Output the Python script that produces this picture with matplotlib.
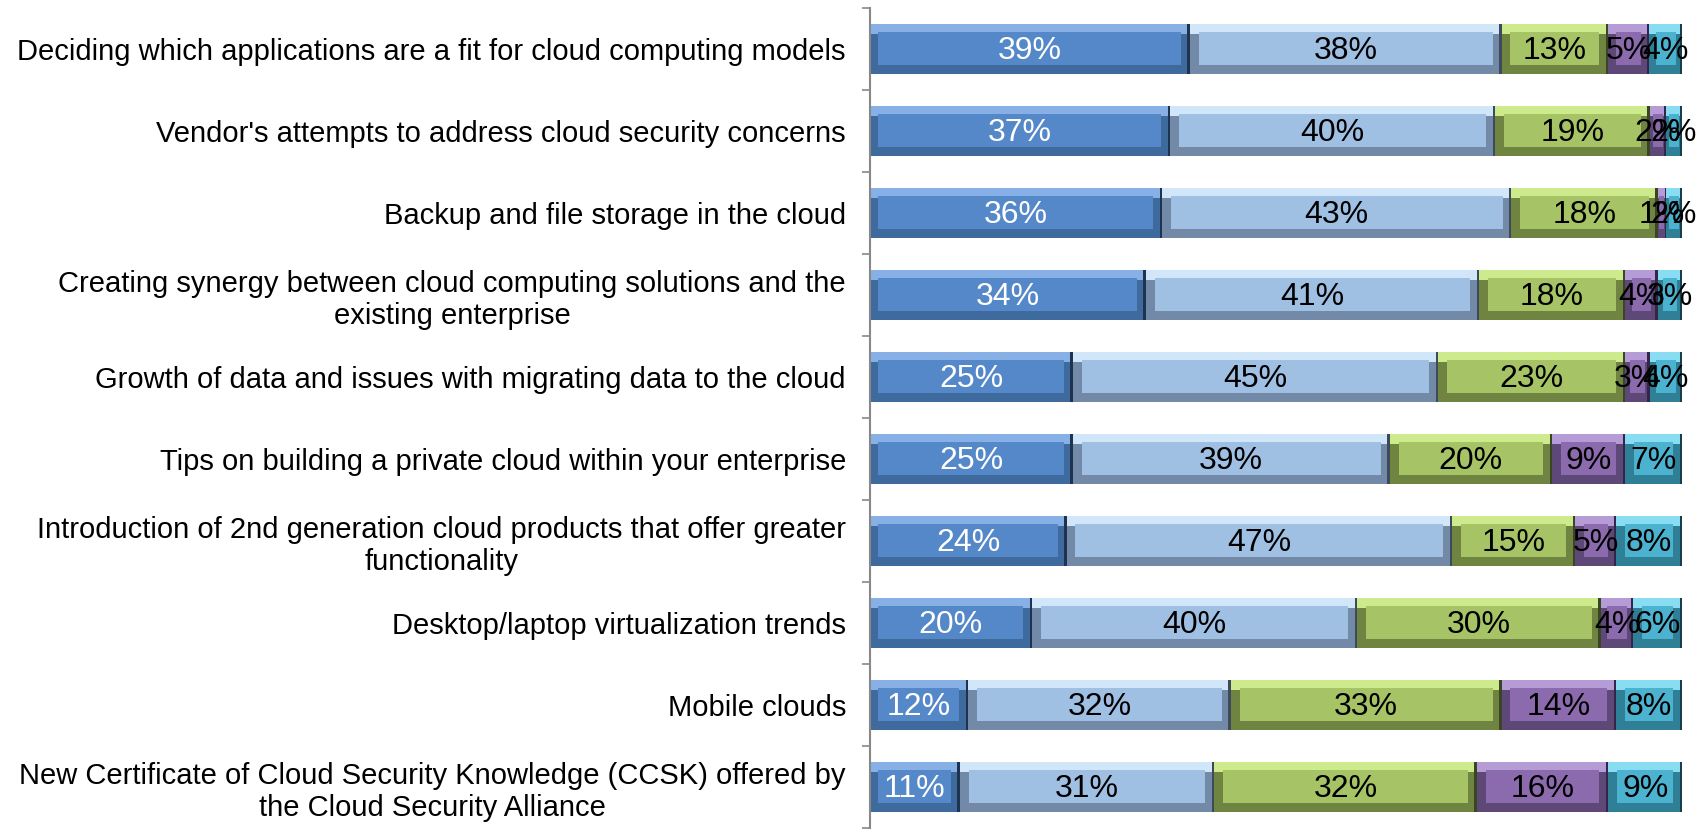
import matplotlib
matplotlib.use('Agg')
import matplotlib.pyplot as plt
import numpy as np

categories = [
    'Deciding which applications are a fit for cloud computing models',
    "Vendor's attempts to address cloud security concerns",
    'Backup and file storage in the cloud',
    'Creating synergy between cloud computing solutions and the\nexisting enterprise',
    'Growth of data and issues with migrating data to the cloud',
    'Tips on building a private cloud within your enterprise',
    'Introduction of 2nd generation cloud products that offer greater\nfunctionality',
    'Desktop/laptop virtualization trends',
    'Mobile clouds',
    'New Certificate of Cloud Security Knowledge (CCSK) offered by\nthe Cloud Security Alliance',
]

s1 = [39, 37, 36, 34, 25, 25, 24, 20, 12, 11]
s2 = [38, 40, 43, 41, 45, 39, 47, 40, 32, 31]
s3 = [13, 19, 18, 18, 23, 20, 15, 30, 33, 32]
s4 = [5, 2, 1, 4, 3, 9, 5, 4, 14, 16]
s5 = [4, 2, 2, 3, 4, 7, 8, 6, 8, 9]

series = [s1, s2, s3, s4, s5]
faces = ['#5588C8', '#9FBFE3', '#A6C465', '#8B6BAE', '#4BB3CF']
lights = ['#86B0E6', '#D2E6FA', '#CDEB8C', '#B59CD6', '#88DDF2']
shades = ['#3E6A9E', '#7289A8', '#6E8440', '#5E4878', '#2F8096']
edges = ['#1E3350', '#3C4A5C', '#3A4622', '#33264A', '#173E4A']
text_colors = ['white', 'black', 'black', 'black', 'black']

plt.rcParams['font.family'] = ['Liberation Sans', 'DejaVu Sans']

fig = plt.figure(figsize=(17.07, 8.30), dpi=100)
ax = fig.add_axes([0.5094, 0.0024, 0.476, 0.988])

data = np.array(series, dtype=float)
totals = data.sum(axis=0)
pct = data / totals * 100
y = np.arange(len(categories))
h = 0.6
left = np.zeros(len(categories))

for vals, raw, fc, lc, sc, ec, tc in zip(pct, series, faces, lights, shades,
                                         edges, text_colors):
    inset = np.minimum(1.1, vals * 0.2)
    # bevelled look: shaded base, light top rim, flat face, dark right edge
    ax.barh(y, vals, left=left, height=h, color=sc, linewidth=0)
    ax.barh(y - h * 0.4, vals, left=left, height=h * 0.2,
            color=lc, linewidth=0)
    ax.barh(y - h * 0.01, vals - 2 * inset, left=left + inset,
            height=h * 0.66, color=fc, linewidth=0)
    ax.barh(y, np.minimum(0.3, vals * 0.1), left=left + vals - np.minimum(0.3, vals * 0.1),
            height=h, color=ec, linewidth=0)
    for yi, l, v, r in zip(y, left, vals, raw):
        ax.text(l + v / 2, yi + 0.02, '%d%%' % r, ha='center', va='center',
                color=tc, fontsize=23)
    left += vals

ax.set_xlim(0, 100)
ax.set_ylim(len(categories) - 0.5, -0.5)
ax.set_yticks(y)
ax.set_yticklabels(categories, fontsize=21, multialignment='center')
ax.set_yticks(np.arange(len(categories) + 1) - 0.5, minor=True)
ax.tick_params(axis='y', which='major', length=0, pad=17)
ax.tick_params(axis='y', which='minor', length=6, width=1.2, color='#888888')
ax.set_xticks([])
for side in ['top', 'right', 'bottom']:
    ax.spines[side].set_visible(False)
ax.spines['left'].set_color('#888888')
ax.spines['left'].set_linewidth(1.5)

fig.savefig('out.png', dpi=100)
